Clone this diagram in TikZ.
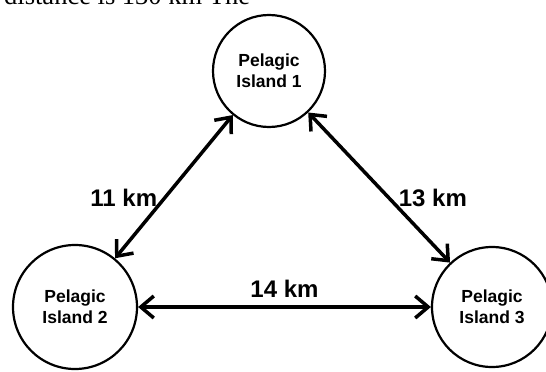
\documentclass[tikz,border=0pt]{standalone}
\usepackage{fontspec}
\setmainfont{Liberation Serif}
\setsansfont{Liberation Sans}
\usetikzlibrary{arrows.meta,positioning}

\begin{document}
\begin{tikzpicture}[x=1pt,y=-1pt,
  island/.style={draw,circle,line width=2.2pt,align=center,font=\fontsize{17.5}{21}\selectfont\sffamily\bfseries,inner sep=0pt},
  dist/.style={font=\fontsize{24}{28}\selectfont\sffamily\bfseries,inner sep=2pt},
  arr/.style={{Straight Barb[length=13pt,width=22pt]}-{Straight Barb[length=13pt,width=22pt]},line width=3.5pt}
]
\useasboundingbox (0,0) rectangle (546,372);
\node[anchor=base west,inner sep=0pt,font=\fontsize{26.5}{30}\selectfont] (cap) at (4,5) {distance is 130 km The};
\node[island,minimum size=112pt] (i1) at (269,71) {Pelagic\\Island 1};
\node[island,minimum size=124pt] (i2) at (75,307) {Pelagic\\Island 2};
\node[island,minimum size=120pt] (i3) at (492,307) {Pelagic\\Island 3};
\draw[arr] (i1) -- node[dist,anchor=east,xshift=-13pt,yshift=-11pt] (d12) {11 km} (i2);
\draw[arr] (i1) -- node[dist,anchor=west,xshift=16pt,yshift=-10pt] (d13) {13 km} (i3);
\draw[arr] (i2) -- node[dist,above=6pt] (d23) {14 km} (i3);
\end{tikzpicture}
\end{document}
